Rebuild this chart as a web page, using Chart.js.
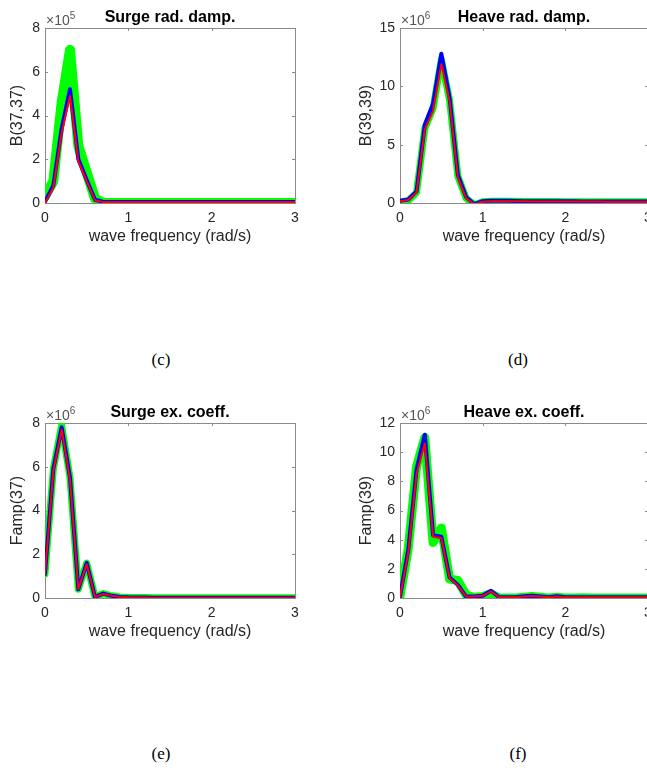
<!DOCTYPE html>
<html>
<head>
<meta charset="utf-8">
<script src="https://cdn.jsdelivr.net/npm/chart.js@4/dist/chart.umd.min.js"></script>
<style>
  html, body { margin:0; padding:0; background:#fff; }
  #wrap { position:relative; width:647px; height:768px; overflow:hidden; background:#fff; }
  canvas { position:absolute; }
  .cap { position:absolute; font-family:"Liberation Serif","Times New Roman",serif; font-size:17px; color:#000; transform:translate(-50%,-50%); white-space:nowrap; }
</style>
</head>
<body>
<div id="wrap">
  <canvas id="c1" width="320" height="260" style="left:0px;top:0px;width:320px;height:260px"></canvas>
  <canvas id="c2" width="345" height="260" style="left:330px;top:0px;width:345px;height:260px"></canvas>
  <canvas id="c3" width="320" height="260" style="left:0px;top:395px;width:320px;height:260px"></canvas>
  <canvas id="c4" width="345" height="260" style="left:330px;top:395px;width:345px;height:260px"></canvas>
  <div class="cap" style="left:161px;top:360px">(c)</div>
  <div class="cap" style="left:518px;top:360px">(d)</div>
  <div class="cap" style="left:161px;top:754px">(e)</div>
  <div class="cap" style="left:518px;top:754px">(f)</div>
</div>
<script>
// ---- data ----
const freq = [0.0,0.1,0.2,0.3,0.4,0.5,0.6,0.7,0.8,0.9,1.0,1.1,1.2,1.3,1.4,1.5,1.6,1.7,1.8,1.9,2.0,2.1,2.2,2.3,2.4,2.5,2.6,2.7,2.8,2.9,3.0];

// Surge rad. damp. B(37,37), x1e5
const surgeRadGreen = [0.3,1.0,4.6,7.0,2.6,1.4,0.2,0.0,0.0,0.0,0.0,0.0,0.0,0.0,0.0,0.0,0.0,0.0,0.0,0.0,0.0,0.0,0.0,0.0,0.0,0.0,0.0,0.0,0.0,0.0,0.0];
const surgeRadBlue  = [0.05,0.8,3.4,5.2,2.0,1.05,0.15,0.05,0.05,0.05,0.05,0.05,0.05,0.05,0.05,0.05,0.05,0.05,0.05,0.05,0.05,0.05,0.05,0.05,0.05,0.05,0.05,0.05,0.05,0.05,0.05];
const surgeRadRed   = [0.0,0.7,3.2,4.9,1.9,1.0,0.12,0.05,0.05,0.05,0.05,0.05,0.05,0.05,0.05,0.05,0.05,0.05,0.05,0.05,0.05,0.05,0.05,0.05,0.05,0.05,0.05,0.05,0.05,0.05,0.05];

// Heave rad. damp. B(39,39), x1e6
const heaveRadGreen = [0.1,0.2,0.9,6.4,8.1,12.3,8.8,2.3,0.4,-0.15,0.1,0.15,0.15,0.15,0.15,0.12,0.12,0.12,0.12,0.12,0.1,0.1,0.1,0.1,0.1,0.1,0.1,0.1,0.1,0.1,0.1];
const heaveRadBlue  = [0.2,0.3,1.0,6.7,8.5,12.8,9.0,2.4,0.5,-0.1,0.15,0.2,0.2,0.2,0.18,0.16,0.15,0.15,0.15,0.15,0.14,0.14,0.13,0.13,0.13,0.12,0.12,0.12,0.12,0.12,0.12];
const heaveRadRed   = [0.15,0.25,0.9,6.3,7.9,11.9,8.7,2.2,0.4,-0.1,0.1,0.15,0.15,0.15,0.15,0.14,0.13,0.13,0.13,0.13,0.12,0.12,0.12,0.12,0.12,0.11,0.11,0.11,0.11,0.11,0.11];

// Surge ex. coeff. Famp(37), x1e6
const surgeExGreen = [1.1,5.9,7.9,5.5,0.4,1.6,0.05,0.2,0.1,0.05,0.03,0.02,0.02,0.01,0.01,0.01,0.01,0.01,0.01,0.01,0.01,0.01,0.01,0.01,0.01,0.01,0.01,0.01,0.01,0.01,0.01];
const surgeExBlue  = [1.1,5.9,7.8,5.5,0.4,1.6,0.05,0.2,0.1,0.05,0.03,0.02,0.02,0.01,0.01,0.01,0.01,0.01,0.01,0.01,0.01,0.01,0.01,0.01,0.01,0.01,0.01,0.01,0.01,0.01,0.01];
const surgeExRed   = [1.1,5.8,7.7,5.4,0.4,1.55,0.05,0.18,0.1,0.05,0.03,0.02,0.02,0.01,0.01,0.01,0.01,0.01,0.01,0.01,0.01,0.01,0.01,0.01,0.01,0.01,0.01,0.01,0.01,0.01,0.01];

// Heave ex. coeff. Famp(39), x1e6
const heaveExGreen = [0.1,3.4,9.0,11.0,3.8,4.8,1.3,1.2,0.2,0.05,0.1,0.3,0.0,0.0,0.0,0.05,0.1,0.05,0.0,0.05,0.0,0.0,0.02,0.0,0.0,0.0,0.0,0.0,0.0,0.0,0.0];
const heaveExBlue  = [0.1,3.3,8.8,11.2,4.3,4.2,1.4,0.9,0.1,0.1,0.15,0.5,0.05,0.05,0.05,0.12,0.15,0.1,0.05,0.12,0.05,0.05,0.06,0.05,0.05,0.05,0.05,0.05,0.05,0.05,0.05];
const heaveExRed   = [0.05,3.1,8.5,10.6,4.2,4.1,1.35,0.85,0.1,0.1,0.15,0.45,0.05,0.05,0.05,0.1,0.13,0.1,0.05,0.1,0.05,0.05,0.05,0.05,0.05,0.05,0.05,0.05,0.05,0.05,0.05];

const xTickLabels = ['0','1','2','3'];

// ---- helpers ----
const FONT = '"Liberation Sans", Arial, Helvetica, sans-serif';
const TXT = '#262626';

function pts(arr){ return arr.map((v,i)=>({x:freq[i], y:v})); }

const boxPlugin = {
  id:'matlabBox',
  beforeDatasetsDraw(chart){
    const {ctx, chartArea:a, scales} = chart;
    ctx.save();
    ctx.strokeStyle = '#8a8a8a';
    ctx.lineWidth = 1;
    ctx.strokeRect(Math.round(a.left)+0.5, Math.round(a.top)+0.5, Math.round(a.right-a.left), Math.round(a.bottom-a.top));
    const tl = 3;
    ctx.beginPath();
    scales.x.ticks.forEach(t=>{
      const px = Math.round(scales.x.getPixelForValue(t.value))+0.5;
      ctx.moveTo(px,a.bottom); ctx.lineTo(px,a.bottom-tl);
      ctx.moveTo(px,a.top); ctx.lineTo(px,a.top+tl);
    });
    scales.y.ticks.forEach(t=>{
      const py = Math.round(scales.y.getPixelForValue(t.value))+0.5;
      ctx.moveTo(a.left,py); ctx.lineTo(a.left+tl,py);
      ctx.moveTo(a.right,py); ctx.lineTo(a.right-tl,py);
    });
    ctx.stroke();
    ctx.restore();
  },
  afterDraw(chart){
    const o = chart.options.plugins.matlabBox || {};
    if(!o.exp) return;
    const {ctx, chartArea:a} = chart;
    ctx.save();
    ctx.fillStyle = '#555';
    ctx.textBaseline = 'alphabetic';
    ctx.textAlign = 'left';
    ctx.font = '14px ' + FONT;
    const base = '\u00d710';
    const w = ctx.measureText(base).width;
    ctx.fillText(base, a.left+1, a.top-3);
    ctx.font = '10px ' + FONT;
    ctx.fillText(o.exp, a.left+1+w, a.top-9);
    ctx.restore();
  }
};

function makeChart(id, cfg){
  const ctx = document.getElementById(id);
  return new Chart(ctx, {
    type:'line',
    data:{ datasets:[
      {label:'green', data:pts(cfg.g), borderColor:'#00ff00', borderWidth:cfg.gw||8, order:3},
      {label:'blue',  data:pts(cfg.b), borderColor:'#0000ff', borderWidth:4, order:2},
      {label:'red',   data:pts(cfg.r), borderColor:'#ff0000', borderWidth:2, order:1}
    ]},
    options:{
      responsive:false, animation:false, devicePixelRatio:1,
      elements:{ point:{radius:0}, line:{tension:0, borderJoinStyle:'round', borderCapStyle:'round', fill:false} },
      layout:{ padding:{left:0, right:cfg.padR, top:0, bottom:0} },
      plugins:{
        legend:{display:false}, tooltip:{enabled:false},
        title:{display:true, fullSize:false, text:cfg.title, color:'#000', font:{family:FONT, size:16, weight:'bold'}, padding:{top:8.4, bottom:0.4}},
        matlabBox:{exp:cfg.exp}
      },
      scales:{
        x:{ type:'linear', min:0, max:3,
            afterFit(s){ s.height = 57; },
            grid:{display:false, drawTicks:false}, border:{display:false},
            ticks:{ stepSize:1, color:TXT, font:{family:FONT, size:14}, padding:7, maxRotation:0,
                    callback:(v)=> xTickLabels[Math.round(v)] },
            title:{display:true, text:'wave frequency (rad/s)', color:TXT, font:{family:FONT, size:16}, padding:{top:0, bottom:13.4}} },
        y:{ type:'linear', min:0, max:cfg.ymax,
            afterFit(s){ s.width = cfg.yw; },
            grid:{display:false, drawTicks:false}, border:{display:false},
            ticks:{ stepSize:cfg.step, color:TXT, font:{family:FONT, size:14}, padding:5 },
            title:{display:true, text:cfg.ylabel, color:TXT, font:{family:FONT, size:16}, padding:{top:cfg.ytp, bottom:0}} }
      }
    },
    plugins:[boxPlugin]
  });
}

makeChart('c1',{title:'Surge rad. damp.', ylabel:'B(37,37)', exp:'5', g:surgeRadGreen, b:surgeRadBlue, r:surgeRadRed, gw:10, ymax:8, step:2, yw:45, padR:25, ytp:8.4});
makeChart('c2',{title:'Heave rad. damp.', ylabel:'B(39,39)', exp:'6', g:heaveRadGreen, b:heaveRadBlue, r:heaveRadRed, gw:7, ymax:15, step:5, yw:70, padR:27, ytp:27.1});
makeChart('c3',{title:'Surge ex. coeff.', ylabel:'Famp(37)', exp:'6', g:surgeExGreen, b:surgeExBlue, r:surgeExRed, gw:7, ymax:8, step:2, yw:45, padR:25, ytp:8.4});
makeChart('c4',{title:'Heave ex. coeff.', ylabel:'Famp(39)', exp:'6', g:heaveExGreen, b:heaveExBlue, r:heaveExRed, gw:9, ymax:12, step:2, yw:70, padR:27, ytp:27.1});
</script>
</body>
</html>
